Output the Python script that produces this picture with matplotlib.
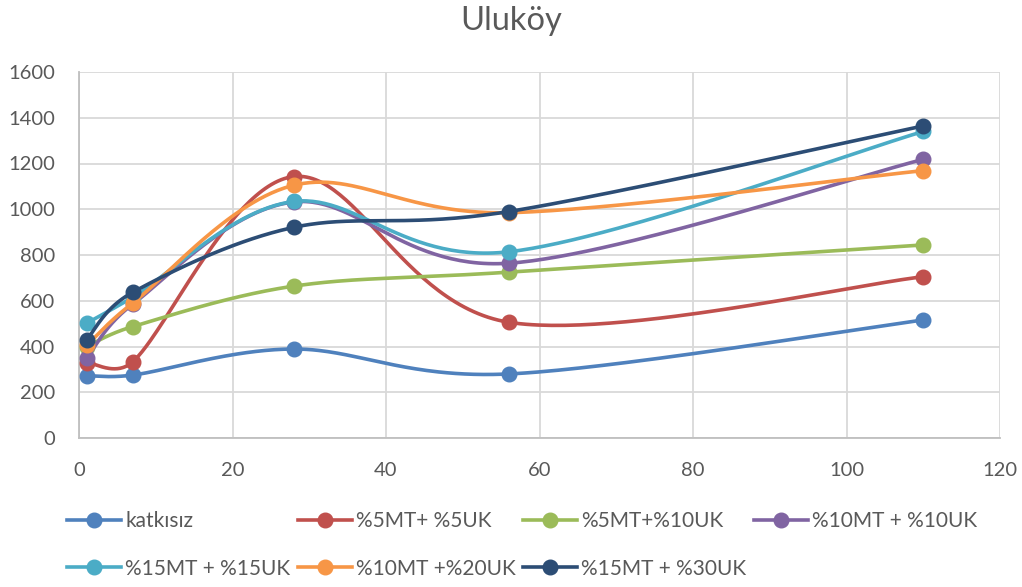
import numpy as np
import matplotlib
matplotlib.use("Agg")
import matplotlib.pyplot as plt
from matplotlib.lines import Line2D

plt.rcParams['font.family'] = ['Lato', 'DejaVu Sans']

# ---- data ----
days = [1, 7, 28, 56, 110]
katkisiz = [272, 275, 389, 280, 516]
mt5_uk5 = [330, 333, 1143, 506, 705]
mt5_uk10 = [400, 487, 664, 725, 844]
mt10_uk10 = [350, 585, 1032, 764, 1218]
mt15_uk15 = [502, 615, 1034, 814, 1340]
mt10_uk20 = [405, 590, 1105, 985, 1169]
mt15_uk30 = [430, 637, 921, 990, 1364]

names = ["katkısız", "%5MT+ %5UK", "%5MT+%10UK", "%10MT + %10UK",
         "%15MT + %15UK", "%10MT +%20UK", "%15MT + %30UK"]
series = [katkisiz, mt5_uk5, mt5_uk10, mt10_uk10, mt15_uk15, mt10_uk20, mt15_uk30]
colors = ["#4F81BD", "#C0504D", "#9BBB59", "#8064A2", "#4BACC6", "#F79646", "#2C4D75"]

x_ticks = [0, 20, 40, 60, 80, 100, 120]
y_ticks = [0, 200, 400, 600, 800, 1000, 1200, 1400, 1600]

W, H = 1022, 587
fig = plt.figure(figsize=(W / 100, H / 100), dpi=100)
ax = fig.add_axes([79 / W, 1 - 438 / H, (1000 - 79) / W, (438 - 72) / H])
ax.set_xlim(0, 120)
ax.set_ylim(0, 1600)
ax.set_xticks(x_ticks)
ax.set_yticks(y_ticks)
ax.grid(True, color="#D9D9D9", lw=1.3)
ax.set_axisbelow(True)
for s in ["top", "right"]:
    ax.spines[s].set_visible(False)
for s in ["left", "bottom"]:
    ax.spines[s].set_color("#BFBFBF")
    ax.spines[s].set_linewidth(1.3)
ax.tick_params(length=0, colors="#595959", labelsize=14.5)
ax.tick_params(axis="y", pad=17)
ax.tick_params(axis="x", pad=17)


def smooth(xs, ys):
    """Excel-like smoothed line: cubic Bezier through points, computed in display space."""
    pts = ax.transData.transform(np.column_stack([xs, ys]))
    n = len(pts)
    out = [pts[0]]
    for i in range(n - 1):
        p0 = pts[i - 1] if i > 0 else pts[i]
        p1 = pts[i]
        p2 = pts[i + 1]
        p3 = pts[i + 2] if i + 2 < n else pts[i + 1]
        seg = np.linalg.norm(p2 - p1)
        c1v = (p2 - p0) / 6.0
        c2v = (p3 - p1) / 6.0
        for v in (c1v, c2v):
            L = np.linalg.norm(v)
            if L > 0.5 * seg and L > 0:
                v *= 0.5 * seg / L
        c1 = p1 + c1v
        c2 = p2 - c2v
        t = np.linspace(0, 1, 60)[1:, None]
        b = ((1 - t) ** 3) * p1 + 3 * ((1 - t) ** 2) * t * c1 + 3 * (1 - t) * t ** 2 * c2 + t ** 3 * p2
        out.extend(b)
    out = np.array(out)
    return ax.transData.inverted().transform(out)


for name, ys, c in zip(names, series, colors):
    curve = smooth(days, ys)
    ax.plot(curve[:, 0], curve[:, 1], color=c, lw=2.6, solid_capstyle="round", zorder=3)
    ax.plot(days, ys, "o", color=c, ms=10.5, zorder=3)

fig.text(0.5, 1 - 21 / H, "Uluköy", ha="center", va="center", fontsize=23.5, color="#595959")

handles = [Line2D([], [], color=c, lw=2.6, marker="o", ms=10.5) for c in colors]
order = [0, 4, 1, 5, 2, 6, 3]
leg = fig.legend([handles[i] for i in order], [names[i] for i in order],
                 ncol=4, loc="upper left", bbox_to_anchor=(67 / W, 1 - 511 / H),
                 frameon=False, fontsize=15, handlelength=2.6, handletextpad=0.2,
                 columnspacing=0.35, labelspacing=1.33, borderpad=0, borderaxespad=0)
for t in leg.get_texts():
    t.set_color("#595959")

fig.savefig("out.png", dpi=100)
